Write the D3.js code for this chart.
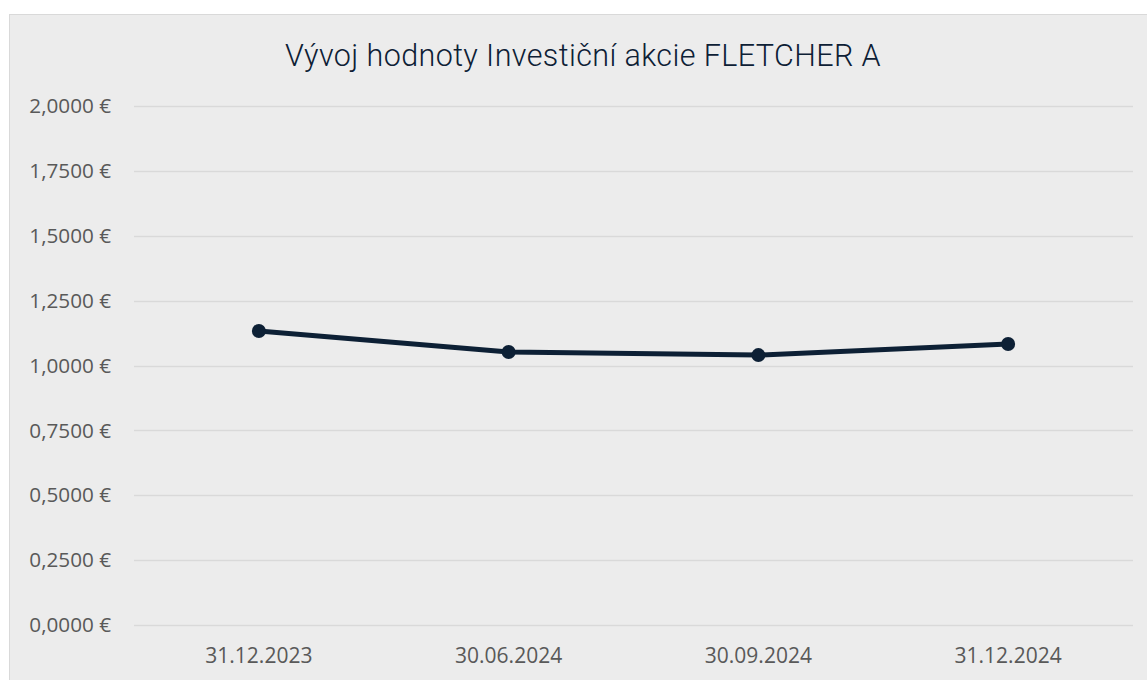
<!DOCTYPE html>
<html>
<head>
<meta charset="utf-8">
<script src="https://cdn.jsdelivr.net/npm/d3@7"></script>
<style>
  body { margin: 0; background: #fff; }
</style>
</head>
<body>
<script>
const title = 'Vývoj hodnoty Investiční akcie FLETCHER A';
const dates = ['31.12.2023', '30.06.2024', '30.09.2024', '31.12.2024'];
const values = [1.133, 1.052, 1.040, 1.083];
const yTicks = [0, 0.25, 0.5, 0.75, 1, 1.25, 1.5, 1.75, 2];

const width = 1147;
const height = 680;
const margins = {
  top: 106,
  bottom: 55,
  left: 134,
  right: 14,
};

const svg = d3.select('body').append('svg')
  .attr('width', width)
  .attr('height', height)

// chart background
svg.append('rect')
  .attr('x', 9.5)
  .attr('y', 14.5)
  .attr('width', width)
  .attr('height', height)
  .attr('fill', '#ececec')
  .attr('stroke', '#d9d9d9')
  .attr('stroke-width', 1)

const xScale = d3.scaleBand(dates, [margins.left, width - margins.right]);
const yScale = d3.scaleLinear([0, 2], [height - margins.bottom, margins.top]);

const fmt = v => d3.format('.4f')(v).replace('.', ',') + ' €';

// gridlines
svg.append('g')
  .selectAll('line')
  .data(yTicks)
  .join('line')
  .attr('x1', margins.left)
  .attr('x2', width - margins.right)
  .attr('y1', d => Math.round(yScale(d)) + 0.5)
  .attr('y2', d => Math.round(yScale(d)) + 0.5)
  .attr('stroke', '#d9d9d9')
  .attr('stroke-width', 1.5)

// y-axis labels
svg.append('g')
  .selectAll('text')
  .data(yTicks)
  .join('text')
  .attr('x', 111)
  .attr('y', d => yScale(d))
  .attr('dy', '0.35em')
  .attr('text-anchor', 'end')
  .attr('font-family', 'Open Sans, sans-serif')
  .attr('font-size', 20.7)
  .attr('fill', '#595959')
  .text(d => fmt(d))

// x-axis labels
svg.append('g')
  .selectAll('text')
  .data(dates)
  .join('text')
  .attr('x', d => xScale(d) + xScale.bandwidth() / 2)
  .attr('y', height - margins.bottom + 31)
  .attr('dy', '0.35em')
  .attr('text-anchor', 'middle')
  .attr('font-family', 'Open Sans, sans-serif')
  .attr('font-size', 21)
  .attr('fill', '#595959')
  .text(d => d)

const points = dates.map((d, i) => ({date: d, value: values[i]}));

const line = d3.line()
  .x(d => xScale(d.date) + xScale.bandwidth() / 2)
  .y(d => yScale(d.value));

svg.append('path')
  .datum(points)
  .attr('d', line)
  .attr('fill', 'none')
  .attr('stroke', '#0d2035')
  .attr('stroke-width', 5)
  .attr('stroke-linejoin', 'round')

svg.append('g')
  .selectAll('circle')
  .data(points)
  .join('circle')
  .attr('cx', d => xScale(d.date) + xScale.bandwidth() / 2)
  .attr('cy', d => yScale(d.value))
  .attr('r', 7)
  .attr('fill', '#0d2035')

// title
svg.append('text')
  .attr('x', 583)
  .attr('y', 66)
  .attr('text-anchor', 'middle')
  .attr('font-family', 'Roboto, sans-serif')
  .attr('font-weight', 300)
  .attr('font-size', 30.5)
  .attr('letter-spacing', 0.4)
  .attr('fill', '#0d2035')
  .text(title)
</script>
</body>
</html>
